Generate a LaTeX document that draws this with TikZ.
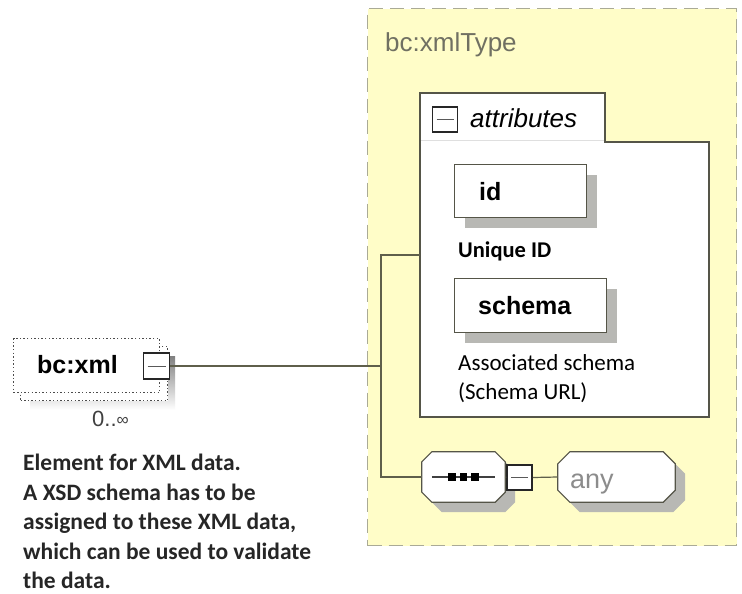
\documentclass[tikz,border=0pt]{standalone}
\usepackage{fontspec}
\setmainfont{Liberation Sans}
\newfontfamily\calfont{Carlito}
\usetikzlibrary{shadows}

\definecolor{typefill}{RGB}{255,253,200}
\definecolor{typeedge}{RGB}{170,170,150}
\definecolor{typetext}{RGB}{112,112,98}
\definecolor{boxedge}{RGB}{85,85,72}
\definecolor{shade}{RGB}{184,184,180}
\definecolor{wire}{RGB}{95,95,75}
\definecolor{anytext}{RGB}{140,140,140}

\tikzset{
  fs/.style={font=\fontsize{#1}{#1}\selectfont},
  lbl/.style={anchor=base west, inner sep=0pt},
  elembox/.style={rectangle, draw=boxedge, line width=1.2pt, fill=white,
    anchor=north west, inner sep=0pt,
    drop shadow={shadow xshift=10pt, shadow yshift=-10pt, fill=shade, opacity=1}},
  optbox/.style={rectangle, draw=gray!60!black, line width=1.2pt, fill=white,
    dash pattern=on 1.4pt off 2.2pt, anchor=north west, inner sep=0pt},
  minusbox/.style={rectangle, draw=black!85, line width=1.7pt, fill=white, inner sep=0pt,
    minimum width=#1, minimum height=#1,
    path picture={\draw[line width=0.9pt, gray!70!black]
      ([xshift=4pt]path picture bounding box.west) -- ([xshift=-4pt]path picture bounding box.east);}},
  hold/.style={rectangle, inner sep=0pt, draw=none},
  wireline/.style={draw=wire, line width=1.2pt},
}

% octagon drawn round a named node: #1 node, #2 chamfer, #3 style
\newcommand\octoround[3]{%
  \path[#3] ([xshift=#2]#1.north west) -- ([xshift=-#2]#1.north east)
    -- ([yshift=-#2]#1.north east) -- ([yshift=#2]#1.south east)
    -- ([xshift=-#2]#1.south east) -- ([xshift=#2]#1.south west)
    -- ([yshift=#2]#1.south west) -- ([yshift=-#2]#1.north west) -- cycle;}
\newcommand\octoshade[3]{%
  \path[#3] ([xshift=#2+10pt,yshift=-10pt]#1.north west) -- ([xshift=-#2+10pt,yshift=-10pt]#1.north east)
    -- ([xshift=10pt,yshift=-#2-10pt]#1.north east) -- ([xshift=10pt,yshift=#2-10pt]#1.south east)
    -- ([xshift=-#2+10pt,yshift=-10pt]#1.south east) -- ([xshift=#2+10pt,yshift=-10pt]#1.south west)
    -- ([xshift=10pt,yshift=#2-10pt]#1.south west) -- ([xshift=10pt,yshift=-#2-10pt]#1.north west) -- cycle;}

\begin{document}
\begin{tikzpicture}[x=1pt,y=-1pt]
\useasboundingbox[fill=white] (0,0) rectangle (742,594);

% ---- complex type frame ----
\node[rectangle, draw=typeedge, fill=typefill, line width=1.3pt,
      dash pattern=on 14pt off 7pt, anchor=north west, inner sep=0pt,
      minimum width=369pt, minimum height=537pt] (xmltype) at (367,8) {};
\node[lbl, fs=26, text=typetext] (typelabel) at (385,52) {bc:xmlType};

% ---- attributes group ----
\draw[draw=boxedge, fill=white, line width=1.2pt]
  (420,93) -- (605,93) -- (605,142) -- (709,142) -- (709,417) -- (420,417) -- cycle;
\draw[gray!25, line width=0.8pt] (421,140) -- (604,140);
\node[minusbox=25pt, line width=1.4pt] (attrmin) at (445,119.5) {};
\node[lbl, font=\itshape\fontsize{26}{26}\selectfont] (attrlabel) at (470,128) {attributes};
\coordinate (attrin) at (420,255);

\node[elembox, minimum width=132pt, minimum height=53pt] (idbox) at (454,164) {};
\node[lbl, font=\bfseries\fontsize{25}{25}\selectfont] (idlabel) at (479,200) {id};
\node[lbl, font=\calfont\bfseries\fontsize{22.5}{22.5}\selectfont] (iddoc) at (458,257) {Unique ID};

\node[elembox, minimum width=152pt, minimum height=54pt] (schemabox) at (454,278) {};
\node[lbl, font=\bfseries\fontsize{25}{25}\selectfont] (schemalabel) at (478,314) {schema};
\node[lbl, font=\calfont\fontsize{23}{30}\selectfont] (schemadoc1) at (458,370) {Associated schema};
\node[lbl, font=\calfont\fontsize{23}{30}\selectfont] (schemadoc2) at (458,399) {(Schema URL)};

% ---- sequence compositor with wildcard ----
\node[hold, minimum width=83pt, minimum height=50pt] (seq) at (463.5,477) {};
\octoshade{seq}{10pt}{fill=shade}
\octoround{seq}{10pt}{draw=boxedge, fill=white, line width=1.2pt}
\draw[line width=1.1pt, gray!50!black] ([xshift=10pt]seq.west) -- ([xshift=-10pt]seq.east);
\foreach \dx in {-11.5,0,11.5}
  \fill[black] ([xshift=\dx pt]seq.center) ++(-3.6pt,-3.6pt) rectangle ++(7.2pt,7.2pt);
\node[minusbox=25pt] (seqmin) at (519.5,477.5) {};

\node[hold, minimum width=117pt, minimum height=50pt] (anynode) at (616.5,477) {};
\octoshade{anynode}{12pt}{fill=shade}
\octoround{anynode}{12pt}{draw=boxedge, fill=white, line width=1.2pt}
\node[lbl, fs=27, text=anytext] (anylabel) at (570,488) {any};

% ---- root element ----
\fill[shade] (30,356) rectangle (175,410);
\node[optbox, minimum width=147pt, minimum height=54pt] (bcxmlback) at (20,346) {};
\node[optbox, minimum width=146pt, minimum height=54pt] (bcxml) at (13,338) {};
\node[lbl, font=\bfseries\fontsize{25}{25}\selectfont] (bcxmllabel) at (37,373) {bc:xml};
\node[minusbox=26pt] (bcxmlmin) at (156.5,366) {};
\node[lbl, fs=22, text=black!75] (occurs) at (92,426) {0..\raisebox{0.5pt}{\fontsize{17}{17}\selectfont ∞}};
\node[anchor=north west, inner sep=0pt, align=left, text=black!85,
      font=\calfont\bfseries\fontsize{23.5}{29.5}\selectfont] (bcxmldoc) at (23,454)
  {Element for XML data.\\A XSD schema has to be\\assigned to these XML data,\\which can be used to validate\\the data.};

% ---- connectors ----
\coordinate (junctop) at (381,255);
\coordinate (juncbot) at (381,477);
\draw[wireline] (bcxmlmin.east) -- (bcxmlmin.east -| junctop);
\draw[wireline] (attrin) -- (junctop) -- (juncbot) -- (juncbot -| seq.west);
\draw[wireline] (seq.east) -- (seqmin.west);
\draw[wireline] (seqmin.east) -- (anynode.west);
\end{tikzpicture}
\end{document}
